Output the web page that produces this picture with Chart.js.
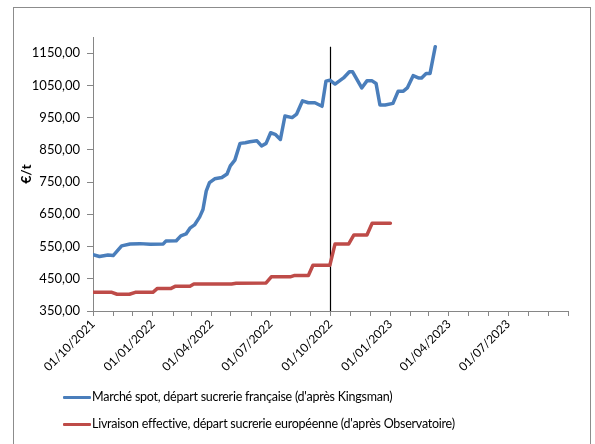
<!DOCTYPE html>
<html>
<head>
<meta charset="utf-8">
<script src="https://cdn.jsdelivr.net/npm/chart.js@4.4.0/dist/chart.umd.min.js"></script>
<style>
html, body { margin: 0; padding: 0; background: #fff; overflow: hidden; }
#wrap { position: relative; width: 595px; height: 444px; }
#frame { position: absolute; left: 13px; top: 7px; width: 576px; height: 470px; border: 1px solid #8c8c8c; }
canvas { position: absolute; left: 0; top: 0; }
.leg { position: absolute; left: 63px; height: 16px; line-height: 16px; font: 12.5px Lato, sans-serif; letter-spacing: -0.25px; color: #000; white-space: nowrap; }
.leg span { display: inline-block; width: 28px; height: 3px; vertical-align: middle; margin-right: 1px; border-radius: 1px; }
</style>
</head>
<body>
<div id="wrap">
  <div id="frame"></div>
  <canvas id="sugarChart" width="595" height="444"></canvas>
  <div id="legend"></div>
</div>
<script>
// days counted from 01/10/2021
const spotDay = [0, 10, 23, 31, 44, 57, 72, 88, 108, 112, 128, 135, 143, 149, 156, 164, 169, 174, 179, 187,
    198, 206, 211, 218, 226, 234, 241, 252, 259, 266, 273, 280, 288, 295, 306, 313, 322, 331, 341, 352,
    358, 364, 372, 385, 394, 399, 413, 421, 429, 435, 441, 449, 461, 469, 477, 483, 492, 500, 505, 512, 518, 526];
const spotPrice = [525, 519, 524, 522, 552, 558, 559, 557, 558, 567, 568, 583, 589, 607, 617, 642, 665, 722, 748, 760,
    764, 775, 800, 818, 870, 872, 875, 878, 862, 870, 903, 898, 882, 955, 950, 961, 1002, 996, 996, 985,
    1063, 1066, 1054, 1073, 1092, 1092, 1042, 1064, 1064, 1056, 989, 989, 994, 1032, 1032, 1042, 1080, 1073, 1073, 1087, 1087, 1170];

const deliveryDay = [0, 29, 37, 56, 65, 92, 99, 120, 127, 149, 155, 213, 220, 266, 274, 303, 309, 331, 338, 364,
    372, 393, 401, 421, 429, 457];
const deliveryPrice = [408, 408, 402, 402, 408, 408, 420, 420, 427, 427, 434, 434, 436, 437, 456, 456, 460, 460, 492, 492,
    558, 558, 586, 586, 622, 622];

const markerDay = 365;
const markerTop = 1170;

const seriesNames = [
    "Marché spot, départ sucrerie française (d'après Kingsman)",
    "Livraison effective, départ sucrerie européenne (d'après Observatoire)"
];
const tickLabels = ['01/10/2021', '01/01/2022', '01/04/2022', '01/07/2022', '01/10/2022', '01/01/2023', '01/04/2023', '01/07/2023'];
const yTicks = [350, 450, 550, 650, 750, 850, 950, 1050, 1150];

const blue = '#4a7ebb';
const red = '#be4b48';
const axisGrey = '#868686';

const base = Date.UTC(2021, 9, 1);
const dayOf = (s) => {
    const [d, m, y] = s.split('/').map(Number);
    return Math.round((Date.UTC(y, m - 1, d) - base) / 864e5);
};

// one tick per month, label only on quarters
const monthTicks = [];
for (let i = 0; i <= 24; i++) {
    monthTicks.push(Math.round((Date.UTC(2021, 9 + i, 1) - base) / 864e5));
}
const labelByDay = {};
tickLabels.forEach(t => { labelByDay[dayOf(t)] = t; });

const toPoints = (xs, ys) => xs.map((x, i) => ({ x: x, y: ys[i] }));

const ctx = document.getElementById('sugarChart').getContext('2d');
new Chart(ctx, {
    type: 'line',
    data: {
        datasets: [
            {
                label: seriesNames[0],
                data: toPoints(spotDay, spotPrice),
                borderColor: blue,
                borderWidth: 3.5,
                pointRadius: 0,
                tension: 0,
                borderJoinStyle: 'round',
                borderCapStyle: 'round'
            },
            {
                label: seriesNames[1],
                data: toPoints(deliveryDay, deliveryPrice),
                borderColor: red,
                borderWidth: 3.5,
                pointRadius: 0,
                tension: 0,
                borderJoinStyle: 'round',
                borderCapStyle: 'round'
            },
            {
                label: 'marker',
                data: [{ x: markerDay, y: yTicks[0] }, { x: markerDay, y: markerTop }],
                borderColor: '#000',
                borderWidth: 1.2,
                pointRadius: 0
            }
        ]
    },
    options: {
        responsive: false,
        animation: false,
        layout: { padding: { left: 14, top: 37, right: 27, bottom: 0 } },
        scales: {
            x: {
                type: 'linear',
                min: 0,
                max: 730,
                afterBuildTicks: (scale) => { scale.ticks = monthTicks.map(v => ({ value: v })); },
                afterFit: (scale) => { scale.height = 133; },
                border: { color: axisGrey, width: 1 },
                grid: { drawOnChartArea: false, drawTicks: true, tickLength: 5, color: axisGrey },
                ticks: {
                    autoSkip: false,
                    minRotation: 45,
                    maxRotation: 45,
                    padding: 1,
                    color: '#000',
                    font: { family: 'Lato', size: 12 },
                    callback: (v) => labelByDay[v] || ''
                }
            },
            y: {
                min: 350,
                max: 1200,
                afterBuildTicks: (scale) => { scale.ticks = yTicks.map(v => ({ value: v })); },
                afterFit: (scale) => { scale.width = 79; },
                border: { color: axisGrey, width: 1 },
                grid: { drawOnChartArea: false, drawTicks: true, tickLength: 6, color: axisGrey },
                ticks: {
                    padding: 7,
                    color: '#000',
                    font: { family: 'Lato', size: 13 },
                    callback: (v) => v.toFixed(2).replace('.', ',')
                },
                title: {
                    display: true,
                    text: '€/t',
                    color: '#000',
                    font: { family: 'Lato', size: 14, weight: 'bold' },
                    padding: { top: 4, bottom: 0 }
                }
            }
        },
        plugins: {
            legend: { display: false },
            tooltip: { enabled: false }
        }
    }
});

// legend like the original: line sample then text, left aligned
const legendBox = document.getElementById('legend');
[blue, red].forEach((c, i) => {
    const row = document.createElement('div');
    row.className = 'leg';
    row.style.top = (389 + i * 27) + 'px';
    row.innerHTML = '<span style="background:' + c + '"></span>';
    row.appendChild(document.createTextNode(seriesNames[i]));
    legendBox.appendChild(row);
});
</script>
</body>
</html>
